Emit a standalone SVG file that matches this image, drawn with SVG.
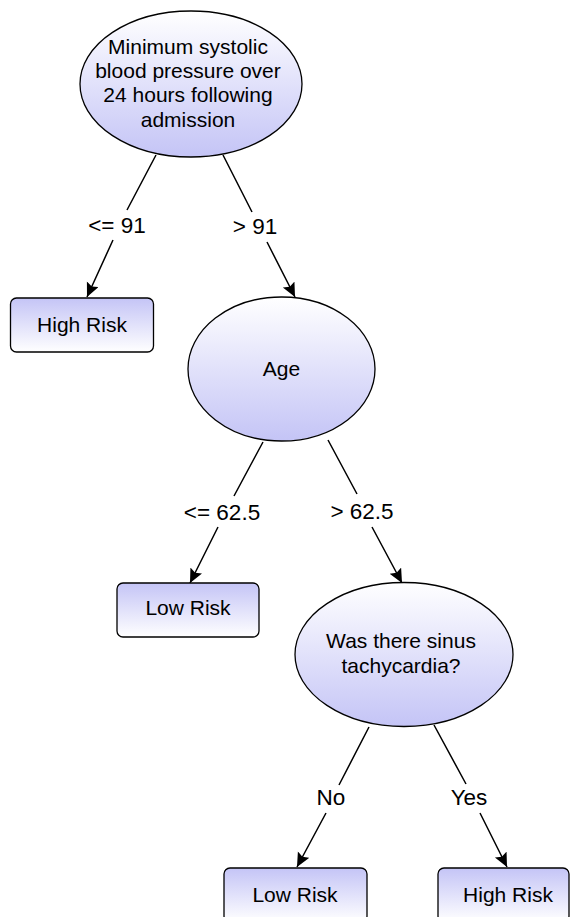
<svg xmlns="http://www.w3.org/2000/svg" width="571" height="917" viewBox="0 0 571 917">
<defs>
<linearGradient id="gEll" x1="0" y1="0" x2="0" y2="1">
<stop offset="0" stop-color="#ffffff"/>
<stop offset="1" stop-color="#c4c4f6"/>
</linearGradient>
<linearGradient id="gRect" x1="0" y1="0" x2="0" y2="1">
<stop offset="0" stop-color="#c4c4f6"/>
<stop offset="1" stop-color="#ffffff"/>
</linearGradient>
<marker id="arrow" markerUnits="userSpaceOnUse" markerWidth="16" markerHeight="14" refX="14" refY="6.5" orient="auto">
<path d="M0,0 L14,6.5 L0,13 L2.5,6.5 z" fill="#000"/>
</marker>
</defs>
<style>
.ell{fill:url(#gEll);stroke:#000;stroke-width:1.3}
.box{fill:url(#gRect);stroke:#000;stroke-width:1.3}
.t{font-family:"Liberation Sans",Arial,sans-serif;font-size:21px;fill:#000;text-anchor:middle}
.l{font-size:22.5px}
.c{fill:none;stroke:#000;stroke-width:1.5;marker-end:url(#arrow)}
</style>
<g id="connectors">
<path class="c" d="M156,155 L127,210 M113,240 L87,297"/>
<path class="c" d="M223,155 L252,212 M267,242 L295,297"/>
<path class="c" d="M263,442 L234,496 M218,527 L190,583"/>
<path class="c" d="M328,440 L357,494 M372,527 L402,583"/>
<path class="c" d="M369,727 L339,785 M326,813 L297,867"/>
<path class="c" d="M434,725 L466,784 M480,813 L507,867"/>
<text class="t l" x="117" y="233">&lt;= 91</text>
<text class="t l" x="255" y="234">&gt; 91</text>
<text class="t l" x="222" y="520">&lt;= 62.5</text>
<text class="t l" x="362" y="519">&gt; 62.5</text>
<text class="t l" x="331" y="805">No</text>
<text class="t l" x="469" y="805">Yes</text>
</g>
<g id="n_bp">
<ellipse class="ell" cx="191" cy="84" rx="111" ry="73"/>
<text class="t" x="188" y="54">Minimum systolic</text>
<text class="t" x="188" y="78">blood pressure over</text>
<text class="t" x="188" y="102">24 hours following</text>
<text class="t" x="188" y="127">admission</text>
</g>
<g id="n_high1">
<rect class="box" x="10.5" y="298" width="143" height="54" rx="6"/>
<text class="t" x="82" y="332">High Risk</text>
</g>
<g id="n_age">
<ellipse class="ell" cx="281.5" cy="369" rx="93.5" ry="72"/>
<text class="t" x="281.5" y="376">Age</text>
</g>
<g id="n_low1">
<rect class="box" x="117" y="583" width="142" height="54" rx="6"/>
<text class="t" x="188" y="615">Low Risk</text>
</g>
<g id="n_sinus">
<ellipse class="ell" cx="404" cy="654.5" rx="109" ry="72"/>
<text class="t" x="401" y="648">Was there sinus</text>
<text class="t" x="401" y="673">tachycardia?</text>
</g>
<g id="n_low2">
<rect class="box" x="224" y="868" width="143" height="54" rx="6"/>
<text class="t" x="295" y="902">Low Risk</text>
</g>
<g id="n_high2">
<rect class="box" x="438" y="868" width="131" height="54" rx="6"/>
<text class="t" x="508" y="902">High Risk</text>
</g>
</svg>
